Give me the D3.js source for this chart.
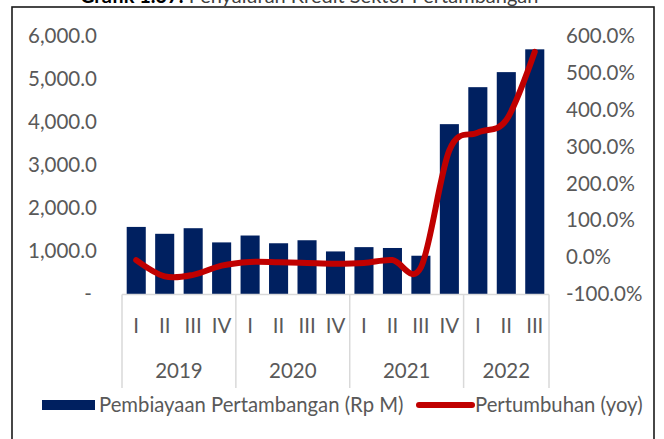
<!DOCTYPE html>
<html>
<head>
  <meta charset="utf-8">
  <title>Pembiayaan Pertambangan</title>
  <script src="https://d3js.org/d3.v7.min.js"></script>
  <style>
    body { margin: 0; background: #fff; }
    svg { display: block; font-family: Lato, "Open Sans", sans-serif; }
    .tick-label { fill: #595959; font-size: 20.5px; }
    .legend-label { fill: #595959; font-size: 20.3px; }
  </style>
</head>
<body>
<svg id="chart" width="664" height="439"></svg>
<script>
  // Data
  const years = ["2019", "2020", "2021", "2022"];
  const quarters = ["I", "II", "III", "IV", "I", "II", "III", "IV", "I", "II", "III", "IV", "I", "II", "III"];
  const quarterYear = ["2019", "2019", "2019", "2019", "2020", "2020", "2020", "2020",
                       "2021", "2021", "2021", "2021", "2022", "2022", "2022"];
  const pembiayaan = [1560, 1400, 1530, 1200, 1360, 1180, 1250, 990, 1090, 1070, 890, 3950, 4810, 5160, 5690];
  const pertumbuhan = [-8, -52, -48, -23, -13, -14, -16, -18, -16, -8, -28, 290, 338, 372, 557];
  const leftTicks = [0, 1000, 2000, 3000, 4000, 5000, 6000];
  const rightTicks = [-100, 0, 100, 200, 300, 400, 500, 600];

  const barColor = "#002060";
  const lineColor = "#C00000";
  const gridColor = "#d9d9d9";

  const svg = d3.select("#chart");

  // frame + cut-off title
  svg.append("text")
    .attr("x", 80).attr("y", 3)
    .attr("font-size", 20)
    .attr("fill", "#404040")
    .html('<tspan font-weight="bold" fill="#000">Grafik 1.37.</tspan> Penyaluran Kredit Sektor Pertambangan');
  svg.append("rect")
    .attr("x", 12).attr("y", 7)
    .attr("width", 642).attr("height", 500)
    .attr("fill", "#fff")
    .attr("stroke", "#1a1a1a")
    .attr("stroke-width", 1.6);

  const idx = d3.range(pembiayaan.length);
  const x = d3.scaleBand()
    .domain(idx)
    .range([122, 549])
    .paddingInner(0.33)
    .paddingOuter(0.165);
  const step = x.step();
  const yL = d3.scaleLinear().domain([0, 6000]).range([294, 36]);
  const yR = d3.scaleLinear().domain([-100, 600]).range([294, 36]);

  // left axis labels
  const fmtL = d3.format(",.1f");
  svg.append("g").selectAll("text")
    .data(leftTicks)
    .join("text")
    .attr("class", "tick-label")
    .attr("x", 97)
    .attr("y", d => yL(d))
    .attr("dy", "0.35em")
    .attr("text-anchor", "end")
    .text(d => d === 0 ? "-\u00a0" : fmtL(d));

  // right axis labels
  svg.append("g").selectAll("text")
    .data(rightTicks)
    .join("text")
    .attr("class", "tick-label")
    .attr("x", 566)
    .attr("y", d => yR(d))
    .attr("dy", "0.35em")
    .text(d => d.toFixed(1) + "%");

  // bars
  svg.append("g").selectAll("rect")
    .data(idx)
    .join("rect")
    .attr("x", i => x(i))
    .attr("width", x.bandwidth())
    .attr("y", i => yL(pembiayaan[i]))
    .attr("height", i => yL(0) - yL(pembiayaan[i]))
    .attr("fill", barColor);

  // category axis (two levels)
  const axisG = svg.append("g");
  const x0 = x.range()[0], x1 = x.range()[1];
  axisG.append("line")
    .attr("x1", x0).attr("x2", x1)
    .attr("y1", 294.5).attr("y2", 294.5)
    .attr("stroke", gridColor).attr("stroke-width", 1.5);

  const groupEdges = [x0];
  years.forEach(yr => {
    const n = quarterYear.filter(q => q === yr).length;
    groupEdges.push(groupEdges[groupEdges.length - 1] + n * step);
  });
  axisG.selectAll(".sep")
    .data(groupEdges)
    .join("line")
    .attr("x1", d => d).attr("x2", d => d)
    .attr("y1", 294.5).attr("y2", 388)
    .attr("stroke", gridColor).attr("stroke-width", 1.5);

  axisG.selectAll(".q")
    .data(idx)
    .join("text")
    .attr("class", "tick-label")
    .attr("x", i => x(i) + x.bandwidth() / 2)
    .attr("y", 326)
    .attr("dy", "0.35em")
    .attr("text-anchor", "middle")
    .text(i => quarters[i]);

  axisG.selectAll(".yr")
    .data(years)
    .join("text")
    .attr("class", "tick-label")
    .attr("x", (d, i) => (groupEdges[i] + groupEdges[i + 1]) / 2)
    .attr("y", 371)
    .attr("dy", "0.35em")
    .attr("text-anchor", "middle")
    .text(d => d);

  // growth line (smoothed like Excel)
  const line = d3.line()
    .x(i => x(i) + x.bandwidth() / 2)
    .y(i => yR(pertumbuhan[i]))
    .curve(d3.curveCatmullRom.alpha(0));
  svg.append("path")
    .datum(idx)
    .attr("d", line)
    .attr("fill", "none")
    .attr("stroke", lineColor)
    .attr("stroke-width", 6)
    .attr("stroke-linecap", "round")
    .attr("stroke-linejoin", "round");

  // legend
  const lg = svg.append("g");
  lg.append("rect")
    .attr("x", 42).attr("y", 400)
    .attr("width", 53).attr("height", 10)
    .attr("fill", barColor);
  lg.append("text")
    .attr("class", "legend-label")
    .attr("x", 99).attr("y", 405)
    .attr("dy", "0.35em")
    .text("Pembiayaan Pertambangan (Rp M)");
  lg.append("line")
    .attr("x1", 419).attr("x2", 472)
    .attr("y1", 405).attr("y2", 405)
    .attr("stroke", lineColor)
    .attr("stroke-width", 6)
    .attr("stroke-linecap", "round");
  lg.append("text")
    .attr("class", "legend-label")
    .attr("x", 475).attr("y", 405)
    .attr("dy", "0.35em")
    .text("Pertumbuhan (yoy)");
</script>
</body>
</html>
